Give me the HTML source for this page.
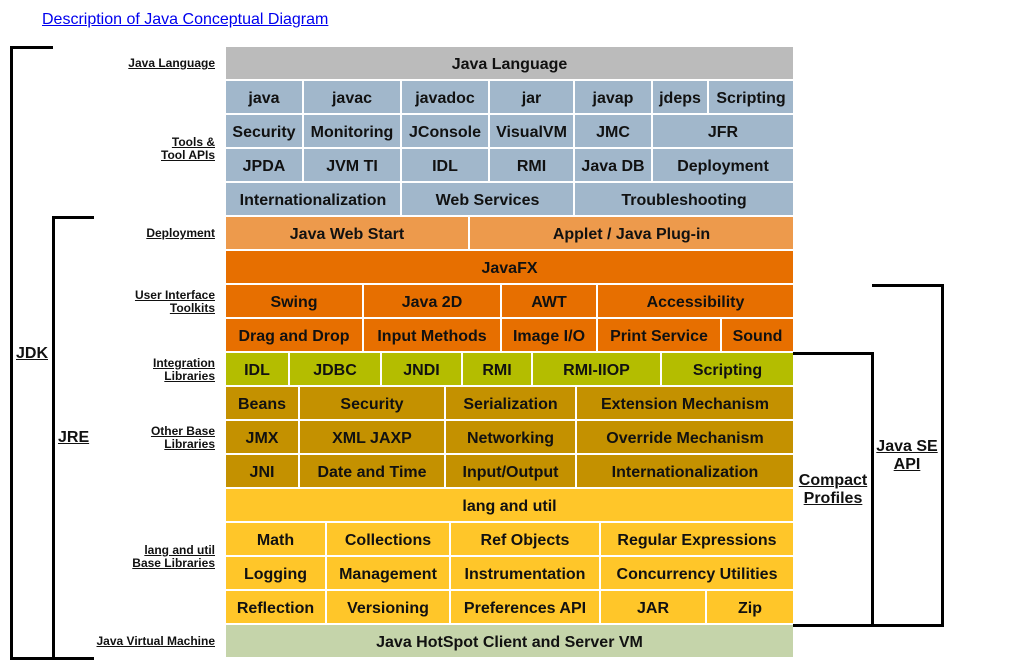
<!DOCTYPE html>
<html><head><meta charset="utf-8"><style>
body{margin:0;width:1025px;height:671px;background:#fff;position:relative;font-family:"Liberation Sans",sans-serif;overflow:hidden}
.c{position:absolute;height:30px;padding-top:2px;line-height:32px;text-align:center;font-weight:bold;font-size:16px;color:#111;white-space:nowrap}
.g{background:#bbbbbb}.b{background:#a1b7cb}.lo{background:#ed9a4c}.o{background:#e76f00}.gr{background:#b4bd00}.d{background:#c49100}.y{background:#ffc629}.p{background:#c5d4aa}
.l{position:absolute;right:810px;font-size:12px;font-weight:bold;text-decoration:underline;text-align:right;line-height:13px;color:#111}
.k{position:absolute;background:#000}
.t{position:absolute;font-size:16px;font-weight:bold;text-decoration:underline;text-align:center;line-height:18px;color:#111}
</style></head><body>
<a style="position:absolute;left:42px;top:11px;font-size:16px;color:#00e;text-decoration:underline">Description of Java Conceptual Diagram</a>

<div class="c g" style="left:226px;top:47px;width:567px">Java Language</div>

<div class="c b" style="left:226px;top:81px;width:76px">java</div>
<div class="c b" style="left:304px;top:81px;width:96px">javac</div>
<div class="c b" style="left:402px;top:81px;width:86px">javadoc</div>
<div class="c b" style="left:490px;top:81px;width:83px">jar</div>
<div class="c b" style="left:575px;top:81px;width:76px">javap</div>
<div class="c b" style="left:653px;top:81px;width:54px">jdeps</div>
<div class="c b" style="left:709px;top:81px;width:84px">Scripting</div>

<div class="c b" style="left:226px;top:115px;width:76px">Security</div>
<div class="c b" style="left:304px;top:115px;width:96px">Monitoring</div>
<div class="c b" style="left:402px;top:115px;width:86px">JConsole</div>
<div class="c b" style="left:490px;top:115px;width:83px">VisualVM</div>
<div class="c b" style="left:575px;top:115px;width:76px">JMC</div>
<div class="c b" style="left:653px;top:115px;width:140px">JFR</div>

<div class="c b" style="left:226px;top:149px;width:76px">JPDA</div>
<div class="c b" style="left:304px;top:149px;width:96px">JVM TI</div>
<div class="c b" style="left:402px;top:149px;width:86px">IDL</div>
<div class="c b" style="left:490px;top:149px;width:83px">RMI</div>
<div class="c b" style="left:575px;top:149px;width:76px">Java DB</div>
<div class="c b" style="left:653px;top:149px;width:140px">Deployment</div>

<div class="c b" style="left:226px;top:183px;width:174px">Internationalization</div>
<div class="c b" style="left:402px;top:183px;width:171px">Web Services</div>
<div class="c b" style="left:575px;top:183px;width:218px">Troubleshooting</div>

<div class="c lo" style="left:226px;top:217px;width:242px">Java Web Start</div>
<div class="c lo" style="left:470px;top:217px;width:323px">Applet / Java Plug-in</div>

<div class="c o" style="left:226px;top:251px;width:567px">JavaFX</div>

<div class="c o" style="left:226px;top:285px;width:136px">Swing</div>
<div class="c o" style="left:364px;top:285px;width:136px">Java 2D</div>
<div class="c o" style="left:502px;top:285px;width:94px">AWT</div>
<div class="c o" style="left:598px;top:285px;width:195px">Accessibility</div>

<div class="c o" style="left:226px;top:319px;width:136px">Drag and Drop</div>
<div class="c o" style="left:364px;top:319px;width:136px">Input Methods</div>
<div class="c o" style="left:502px;top:319px;width:94px">Image I/O</div>
<div class="c o" style="left:598px;top:319px;width:122px">Print Service</div>
<div class="c o" style="left:722px;top:319px;width:71px">Sound</div>

<div class="c gr" style="left:226px;top:353px;width:62px">IDL</div>
<div class="c gr" style="left:290px;top:353px;width:90px">JDBC</div>
<div class="c gr" style="left:382px;top:353px;width:79px">JNDI</div>
<div class="c gr" style="left:463px;top:353px;width:68px">RMI</div>
<div class="c gr" style="left:533px;top:353px;width:127px">RMI-IIOP</div>
<div class="c gr" style="left:662px;top:353px;width:131px">Scripting</div>

<div class="c d" style="left:226px;top:387px;width:72px">Beans</div>
<div class="c d" style="left:300px;top:387px;width:144px">Security</div>
<div class="c d" style="left:446px;top:387px;width:129px">Serialization</div>
<div class="c d" style="left:577px;top:387px;width:216px">Extension Mechanism</div>

<div class="c d" style="left:226px;top:421px;width:72px">JMX</div>
<div class="c d" style="left:300px;top:421px;width:144px">XML JAXP</div>
<div class="c d" style="left:446px;top:421px;width:129px">Networking</div>
<div class="c d" style="left:577px;top:421px;width:216px">Override Mechanism</div>

<div class="c d" style="left:226px;top:455px;width:72px">JNI</div>
<div class="c d" style="left:300px;top:455px;width:144px">Date and Time</div>
<div class="c d" style="left:446px;top:455px;width:129px">Input/Output</div>
<div class="c d" style="left:577px;top:455px;width:216px">Internationalization</div>

<div class="c y" style="left:226px;top:489px;width:567px">lang and util</div>

<div class="c y" style="left:226px;top:523px;width:99px">Math</div>
<div class="c y" style="left:327px;top:523px;width:122px">Collections</div>
<div class="c y" style="left:451px;top:523px;width:148px">Ref Objects</div>
<div class="c y" style="left:601px;top:523px;width:192px">Regular Expressions</div>

<div class="c y" style="left:226px;top:557px;width:99px">Logging</div>
<div class="c y" style="left:327px;top:557px;width:122px">Management</div>
<div class="c y" style="left:451px;top:557px;width:148px">Instrumentation</div>
<div class="c y" style="left:601px;top:557px;width:192px">Concurrency Utilities</div>

<div class="c y" style="left:226px;top:591px;width:99px">Reflection</div>
<div class="c y" style="left:327px;top:591px;width:122px">Versioning</div>
<div class="c y" style="left:451px;top:591px;width:148px">Preferences API</div>
<div class="c y" style="left:601px;top:591px;width:104px">JAR</div>
<div class="c y" style="left:707px;top:591px;width:86px">Zip</div>

<div class="c p" style="left:226px;top:625px;width:567px">Java HotSpot Client and Server VM</div>

<div class="l" style="top:57px">Java Language</div>
<div class="l" style="top:136px">Tools &amp;<br>Tool APIs</div>
<div class="l" style="top:227px">Deployment</div>
<div class="l" style="top:289px">User Interface<br>Toolkits</div>
<div class="l" style="top:357px">Integration<br>Libraries</div>
<div class="l" style="top:425px">Other Base<br>Libraries</div>
<div class="l" style="top:544px">lang and util<br>Base Libraries</div>
<div class="l" style="top:635px">Java Virtual Machine</div>

<div class="k" style="left:10px;top:46px;width:3px;height:614px"></div>
<div class="k" style="left:10px;top:46px;width:43px;height:3px"></div>
<div class="k" style="left:10px;top:657px;width:43px;height:3px"></div>
<div class="k" style="left:52px;top:216px;width:3px;height:444px"></div>
<div class="k" style="left:52px;top:216px;width:42px;height:3px"></div>
<div class="k" style="left:52px;top:657px;width:42px;height:3px"></div>
<div class="t" style="left:16px;top:345px">JDK</div>
<div class="t" style="left:58px;top:429px">JRE</div>

<div class="k" style="left:793px;top:352px;width:80px;height:3px"></div>
<div class="k" style="left:871px;top:352px;width:3px;height:274px"></div>
<div class="k" style="left:793px;top:624px;width:151px;height:3px"></div>
<div class="k" style="left:872px;top:284px;width:72px;height:3px"></div>
<div class="k" style="left:941px;top:284px;width:3px;height:343px"></div>
<div class="t" style="left:796px;top:472px;width:74px">Compact<br>Profiles</div>
<div class="t" style="left:874px;top:438px;width:66px">Java SE<br>API</div>
</body></html>
